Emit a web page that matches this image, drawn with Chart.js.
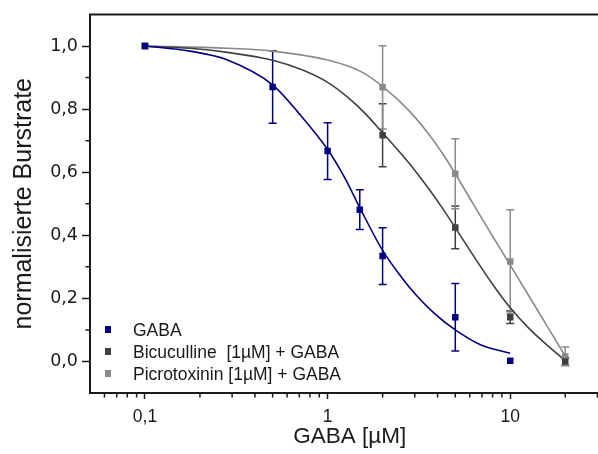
<!DOCTYPE html>
<html>
<head>
<meta charset="utf-8">
<script src="https://cdn.jsdelivr.net/npm/chart.js@4.4.1/dist/chart.umd.min.js"></script>
<style>
  html, body { margin: 0; padding: 0; background: #fff; overflow: hidden; }
  #wrap { position: relative; width: 598px; height: 454px; overflow: hidden; }
  #wrap canvas { position: absolute; left: 0; top: 0; }
  .key { position: absolute; left: 133px; font-family: 'Liberation Sans', Arial, sans-serif;
         font-size: 17.5px; line-height: 20px; color: #1a1a1a; white-space: pre; }
  .sw { position: absolute; left: 104.5px; width: 6.5px; height: 6.5px; }
</style>
</head>
<body>
<div id="wrap">
  <canvas id="c" width="614" height="454"></canvas>
  <div id="legend"></div>
</div>
<script>
// Normalised burst rate vs. GABA concentration (µM), mean ± error
const gabaConc = [0.1, 0.5, 1, 1.5, 2, 5, 10];
const gabaRate = [1.0, 0.87, 0.667, 0.481, 0.334, 0.14, 0.002];
const gabaErr  = [0, 0.115, 0.09, 0.063, 0.09, 0.107, 0];

const antagConc = [0.1, 2, 5, 10, 20];
const bicuRate  = [1.0, 0.717, 0.425, 0.14, 0.0];
const bicuErr   = [0, 0.1, 0.068, 0.02, 0.012];
const picroRate = [1.0, 0.869, 0.595, 0.317, 0.016];
const picroErr  = [0, 0.132, 0.111, 0.164, 0.03];

// Dose-response fit curves, sampled along the concentration axis
const gabaFitConc  = [0.1, 0.176, 0.283, 0.5, 0.70, 1.0, 1.24, 1.5, 2, 2.53, 3.06, 3.88, 5, 6.87, 10];
const gabaFitRate  = [1.0, 0.984, 0.956, 0.877, 0.785, 0.672, 0.583, 0.488, 0.352, 0.268, 0.21, 0.15, 0.10, 0.053, 0.026];
const bicuFitConc  = [0.1, 0.176, 0.283, 0.5, 0.73, 1.0, 1.3, 1.57, 2, 2.78, 3.53, 4.25, 5, 6.24, 7.93, 10, 12.7, 16.2, 20];
const bicuFitRate  = [1.0, 0.993, 0.980, 0.955, 0.924, 0.885, 0.836, 0.792, 0.725, 0.630, 0.552, 0.486, 0.424, 0.338, 0.248, 0.170, 0.104, 0.048, 0.003];
const picroFitConc = [0.1, 0.283, 0.5, 1.0, 1.3, 1.57, 2, 2.78, 3.53, 4.25, 5, 6.24, 7.93, 10, 12.7, 16.2, 20];
const picroFitRate = [1.0, 0.993, 0.984, 0.956, 0.936, 0.915, 0.872, 0.796, 0.725, 0.66, 0.595, 0.501, 0.401, 0.305, 0.206, 0.105, 0.017];

const seriesNames = ['GABA', 'Bicuculline  [1µM] + GABA', 'Picrotoxinin [1µM] + GABA'];
const seriesColors = ['#000080', '#404040', '#8a8a8a'];

// Axis ticks
const xMajorTicks = [0.1, 1, 10];
const xTickLabels = ['0,1', '1', '10'];
const xMinorTicks = [0.06, 0.07, 0.08, 0.09, 0.2, 0.3, 0.4, 0.5, 0.6, 0.7, 0.8, 0.9,
                     2, 3, 4, 5, 6, 7, 8, 9, 20, 30];
const yMajorTicks = [0, 0.2, 0.4, 0.6, 0.8, 1.0];
const yTickLabels = ['0,0', '0,2', '0,4', '0,6', '0,8', '1,0'];
const yMinorTicks = [0.1, 0.3, 0.5, 0.7, 0.9];

const INK = '#1a1a1a';
const pts = (xs, ys) => xs.map((x, i) => ({ x: x, y: ys[i] }));

function markers(label, xs, ys, errs, color) {
  return { label: label, data: pts(xs, ys), errors: errs, showLine: false,
           pointStyle: 'rect', pointRadius: 4.6, pointHoverRadius: 4.6,
           backgroundColor: color, borderColor: color, borderWidth: 0 };
}
function fitLine(xs, ys, color) {
  return { data: pts(xs, ys), showLine: true, pointRadius: 0, pointHoverRadius: 0,
           borderColor: color, borderWidth: 1.6, fill: false,
           cubicInterpolationMode: 'monotone' };
}

// Error bars, frame line and minor tick marks
const decorations = {
  id: 'decorations',
  beforeDatasetsDraw(chart) {
    const ctx = chart.ctx, xs = chart.scales.x, ys = chart.scales.y;
    ctx.save();
    ctx.lineWidth = 1.5;
    chart.data.datasets.forEach(ds => {
      if (!ds.errors) return;
      ctx.strokeStyle = ds.backgroundColor;
      ds.data.forEach((p, i) => {
        const e = ds.errors[i];
        if (!e) return;
        const x = xs.getPixelForValue(p.x);
        const yt = ys.getPixelForValue(p.y + e);
        const yb = ys.getPixelForValue(p.y - e);
        ctx.beginPath();
        ctx.moveTo(x, yt); ctx.lineTo(x, yb);
        ctx.moveTo(x - 4, yt); ctx.lineTo(x + 4, yt);
        ctx.moveTo(x - 4, yb); ctx.lineTo(x + 4, yb);
        ctx.stroke();
      });
    });
    ctx.restore();
  },
  afterDraw(chart) {
    const ctx = chart.ctx, a = chart.chartArea, xs = chart.scales.x, ys = chart.scales.y;
    ctx.save();
    ctx.strokeStyle = INK;
    ctx.lineWidth = 2;
    ctx.beginPath();
    ctx.moveTo(a.left - 1, a.top);
    ctx.lineTo(a.right, a.top);
    ctx.stroke();
    ctx.lineWidth = 1.5;
    ctx.beginPath();
    xMinorTicks.forEach(v => {
      const x = xs.getPixelForValue(v);
      ctx.moveTo(x, a.bottom); ctx.lineTo(x, a.bottom + 4.5);
    });
    yMinorTicks.forEach(v => {
      const y = ys.getPixelForValue(v);
      ctx.moveTo(a.left, y); ctx.lineTo(a.left - 4.5, y);
    });
    ctx.stroke();
    ctx.restore();
  }
};

Chart.defaults.font.family = "'Liberation Sans', Arial, sans-serif";
Chart.defaults.color = INK;

new Chart(document.getElementById('c'), {
  type: 'scatter',
  data: {
    datasets: [
      markers(seriesNames[0], gabaConc, gabaRate, gabaErr, seriesColors[0]),
      markers(seriesNames[1], antagConc, bicuRate, bicuErr, seriesColors[1]),
      markers(seriesNames[2], antagConc, picroRate, picroErr, seriesColors[2]),
      fitLine(gabaFitConc, gabaFitRate, seriesColors[0]),
      fitLine(bicuFitConc, bicuFitRate, seriesColors[1]),
      fitLine(picroFitConc, picroFitRate, seriesColors[2])
    ]
  },
  options: {
    responsive: false,
    animation: false,
    events: [],
    layout: { padding: { top: 14, left: 0, right: 0, bottom: 0 } },
    plugins: { legend: { display: false }, tooltip: { enabled: false } },
    scales: {
      x: {
        type: 'logarithmic', min: 0.05, max: 34.9, bounds: 'data',
        afterBuildTicks: s => { s.ticks = xMajorTicks.map(v => ({ value: v })); },
        afterFit: s => { s.height = 61; },
        ticks: {
          autoSkip: false, maxRotation: 0, padding: 8, font: { size: 17.5 }, color: INK,
          major: { enabled: false },
          callback: v => { const i = xMajorTicks.indexOf(v); return i >= 0 ? xTickLabels[i] : ''; }
        },
        grid: { drawOnChartArea: false, tickLength: 6, tickWidth: 1.5, tickColor: INK },
        border: { display: true, width: 2, color: INK },
        title: { display: true, text: 'GABA [µM]', font: { size: 22.5 }, color: INK,
                 padding: { top: 0, bottom: 4 } }
      },
      y: {
        type: 'linear', min: -0.1, max: 1.1,
        afterBuildTicks: s => { s.ticks = yMajorTicks.map(v => ({ value: v })); },
        afterFit: s => { s.width = 90; },
        ticks: {
          padding: 4, font: { size: 17.5, family: "'DejaVu Sans', sans-serif" }, color: INK,
          callback: v => {
            const i = yMajorTicks.findIndex(t => Math.abs(t - v) < 1e-9);
            return i >= 0 ? yTickLabels[i] : '';
          }
        },
        grid: { drawOnChartArea: false, tickLength: 8, tickWidth: 1.5, tickColor: INK },
        border: { display: true, width: 2, color: INK },
        title: { display: true, text: 'normalisierte Burstrate', font: { size: 25 }, color: INK,
                 padding: { top: 9.6, bottom: 0 } }
      }
    }
  },
  plugins: [decorations]
});

// Legend (inside the plot, lower left)
const legendRows = [329.7, 351.6, 373.3];
const legend = document.getElementById('legend');
seriesNames.forEach((name, i) => {
  const sw = document.createElement('div');
  sw.className = 'sw';
  sw.style.top = (legendRows[i] - 3.25) + 'px';
  sw.style.background = seriesColors[i];
  legend.appendChild(sw);
  const t = document.createElement('div');
  t.className = 'key';
  t.style.top = (legendRows[i] - 9.8) + 'px';
  t.textContent = name;
  legend.appendChild(t);
});
</script>
</body>
</html>
